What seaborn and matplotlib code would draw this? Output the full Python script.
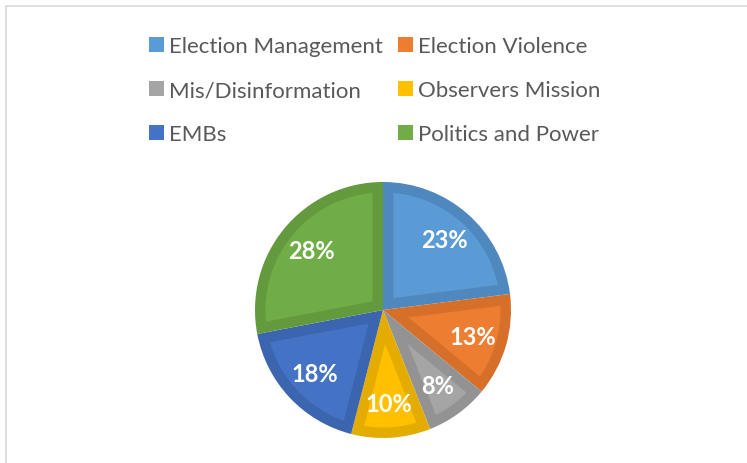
import matplotlib
matplotlib.use("Agg")
import numpy as np
import matplotlib.pyplot as plt
import matplotlib.patches as mpatches
import seaborn as sns

# slice data, clockwise from 12 o'clock
categories = ["Election Management", "Election Violence", "Mis/Disinformation",
              "Observers Mission", "EMBs", "Politics and Power"]
shares = [23, 13, 8, 10, 18, 28]

fill_colors = ["#5B9BD5", "#ED7D31", "#A5A5A5", "#FFC000", "#4472C4", "#70AD47"]
rim_colors = ["#4F88BF", "#D66F2A", "#939393", "#E5AC00", "#3C65B0", "#639A3E"]

sns.set_theme(style="white")
plt.rcParams['font.family'] = ['Lato', 'DejaVu Sans']

fig = plt.figure(figsize=(7.47, 4.64), dpi=100)
W, H = 747, 464

# chart-area border (only top and left visible)
fig.patches.append(mpatches.Rectangle((6 / W, -0.1), 1.2, 1 - 7 / H + 0.1,
                                      transform=fig.transFigure, fill=False,
                                      edgecolor="#D9D9D9", linewidth=1.2))

cx, cy, r = 383, 311, 128
ax = fig.add_axes([(cx - r) / W, (H - cy - r) / H, 2 * r / W, 2 * r / H])

# base pie in the darker rim colour
wedges, texts, autotexts = ax.pie(
    shares, colors=rim_colors, startangle=90, counterclock=False, radius=1,
    autopct=lambda p: f"{p:.0f}%", pctdistance=0.73,
    textprops=dict(color="white", fontsize=17, fontweight="bold", zorder=5),
    wedgeprops=dict(linewidth=0))

# bevel look: lighter inset of each slice
d = 10.5 / r
for w, fc in zip(wedges, fill_colors):
    t1, t2 = np.radians(w.theta1), np.radians(w.theta2)
    half = (t2 - t1) / 2
    mid = (t1 + t2) / 2
    apex = d / np.sin(half)
    rr = w.r - d
    delta = np.arcsin(d / rr)
    arc = np.linspace(t1 + delta, t2 - delta, 100)
    xs = np.concatenate([[apex * np.cos(mid)], rr * np.cos(arc)])
    ys = np.concatenate([[apex * np.sin(mid)], rr * np.sin(arc)])
    ax.fill(xs, ys, color=fc, linewidth=0, zorder=2)

ax.set_xlim(-1, 1)
ax.set_ylim(-1, 1)
ax.set_aspect("equal")
ax.axis("off")

# legend, row-major order -> column-major for matplotlib
order = [0, 2, 4, 1, 3, 5]
handles = [mpatches.Patch(facecolor=fill_colors[i], edgecolor="none") for i in order]
labels = [categories[i] for i in order]
fig.legend(handles, labels, ncol=2, loc="upper left",
           bbox_to_anchor=(149 / W, 1 - 37 / H), frameon=False,
           fontsize=16, labelcolor="#595959",
           handlelength=0.66, handleheight=0.66, handletextpad=0.25,
           columnspacing=0.68, labelspacing=1.08, borderpad=0,
           borderaxespad=0)

fig.savefig("out.png", dpi=100)
